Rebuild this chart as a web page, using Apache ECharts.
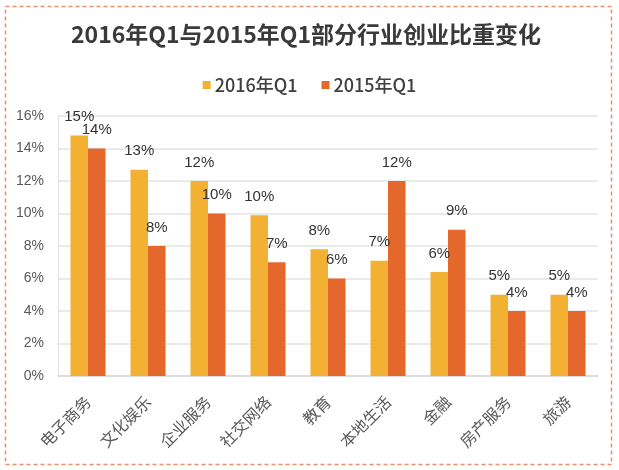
<!DOCTYPE html>
<html><head><meta charset="utf-8">
<script src="https://cdn.jsdelivr.net/npm/echarts@6/dist/echarts.min.js"></script>
<style>html,body{margin:0;padding:0;background:#fff}#c{width:619px;height:470px}</style>
</head><body><div id="c"></div>
<script>
const categories = ['电子商务','文化娱乐','企业服务','社交网络','教育','本地生活','金融','房产服务','旅游'];
const series2016 = [14.8, 12.7, 12.0, 9.9, 7.8, 7.1, 6.4, 5.0, 5.0];
const series2015 = [14.0, 8.0, 10.0, 7.0, 6.0, 12.0, 9.0, 4.0, 4.0];
const seriesNames = ['2016年Q1','2015年Q1'];
const yTicks = [0, 2, 4, 6, 8, 10, 12, 14, 16];

const chart = echarts.init(document.getElementById('c'));
const labelCfg = {
  show: true, position: 'top', distance: 11,
  fontFamily: 'Liberation Sans, Arial, sans-serif', fontSize: 15, color: '#333',
  formatter: p => Math.round(p.value) + '%'
};
chart.setOption({
  backgroundColor: '#fff',
  animation: false,
  title: {
    text: '2016年Q1与2015年Q1部分行业创业比重变化',
    left: 66, top: 18,
    textStyle: { fontFamily: 'Noto Sans CJK SC', fontWeight: 'bold', fontSize: 23, color: '#3a3a3a' }
  },
  legend: {
    data: seriesNames, top: 71, left: 'center',
    itemWidth: 8, itemHeight: 8, itemGap: 24, icon: 'rect',
    textStyle: { fontFamily: 'Noto Sans CJK SC', fontWeight: 500, fontSize: 18, color: '#404040', padding: [0, 0, 0, -1] }
  },
  graphic: [{
    type: 'rect', silent: true,
    shape: { x: 5.5, y: 6.5, width: 606, height: 458 },
    style: { fill: 'none', stroke: '#E9906C', lineWidth: 1.5, lineDash: [4, 3] }
  }],
  grid: { left: 58, right: 21, top: 116, bottom: 94 },
  xAxis: {
    type: 'category', data: categories,
    axisLine: { lineStyle: { color: '#d9d9d9', width: 1.5 } },
    axisTick: { show: false },
    axisLabel: { rotate: 45, margin: 23, interval: 0, fontFamily: 'Noto Sans CJK SC', fontSize: 16, color: '#595959' }
  },
  yAxis: {
    type: 'value', min: yTicks[0], max: yTicks[yTicks.length - 1], interval: 2,
    axisLine: { show: true, lineStyle: { color: '#e3e3e3' } },
    axisTick: { show: false },
    splitLine: { lineStyle: { color: '#e3e3e3', width: 1.5 } },
    axisLabel: { margin: 14, fontFamily: 'Liberation Sans, Arial, sans-serif', fontSize: 14, color: '#595959', formatter: v => v + '%' }
  },
  series: [
    { name: seriesNames[0], type: 'bar', data: series2016, barWidth: 17.5, barGap: '0%',
      itemStyle: { color: '#F2B133' }, label: labelCfg },
    { name: seriesNames[1], type: 'bar', data: series2015, barWidth: 17.5, barGap: '0%',
      itemStyle: { color: '#E4682B' }, label: labelCfg }
  ]
});
</script></body></html>
